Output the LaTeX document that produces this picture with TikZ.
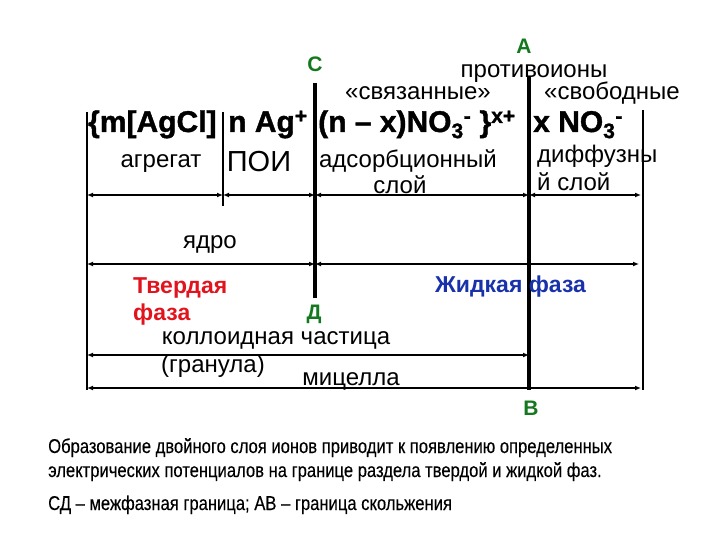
\documentclass[tikz,border=0pt]{standalone}
\usepackage{fontspec}
\setmainfont{Liberation Sans}
\newfontfamily\capfont[FakeStretch=0.83, FakeBold=0.2]{Liberation Sans}
\newfontfamily\heavyfont[BoldFeatures={FakeBold=1.3}]{Liberation Sans}
\usetikzlibrary{arrows.meta, positioning}
\definecolor{markgreen}{RGB}{20,120,30}
\definecolor{phasered}{RGB}{225,20,30}
\definecolor{phaseblue}{RGB}{25,50,170}
\tikzset{
	thinline/.style={line width=1.3pt},
	boundary/.style={line width=4.5pt},
	dim/.style={line width=1.3pt, {Latex[length=6pt,width=5pt]}-{Latex[length=6pt,width=5pt]}},
	lbl/.style={inner sep=0pt, anchor=base, font=\fontsize{24}{26}\selectfont},
	formula/.style={inner sep=0pt, anchor=base west, font=\fontsize{30}{32}\selectfont\heavyfont\bfseries},
	point/.style={inner sep=0pt, text=markgreen, font=\fontsize{21}{23}\selectfont\bfseries},
	phase/.style={inner sep=0pt, anchor=base west, font=\fontsize{23}{25}\selectfont\bfseries},
	caption/.style={inner sep=0pt, anchor=base west, font=\fontsize{20}{22}\selectfont\capfont}
}
\begin{document}
\begin{tikzpicture}[x=1pt, y=-1pt]
		\useasboundingbox (0,0) rectangle (720,540);
		% vertical lines
		\coordinate (L0) at (87,112);
		\coordinate (L1) at (223,112);
		\coordinate (C) at (315,83);
		\coordinate (A) at (529,76);
		\coordinate (R) at (643,110);
		\draw[thinline] (L0) -- (87,390);
		\draw[thinline] (L1) -- (223,206);
		\draw[boundary] (C) -- (315,298);
		\draw[boundary] (A) -- (529,390);
		\draw[thinline] (R) -- (643,390);
		% dimension arrows
		\draw[dim] (87,195) -- (223,195);
		\draw[dim] (223,195) -- (315,195);
		\draw[dim] (315,195) -- (529,195);
		\draw[dim] (529,195) -- (641,195);
		\draw[dim] (87,264) -- (315,264);
		\draw[dim] (315,264) -- (639,264);
		\draw[dim] (87,355) -- (529,355);
		\draw[dim] (87,388) -- (641,388);
		% formula
		\node[formula] (f1) at (88,132) {\{m[AgCl]};
		\node[formula] (f2) at (228,132) {n Ag\textsuperscript{+}};
		\node[formula] (f3) at (318,132) {(n – x)NO\textsubscript{3}\textsuperscript{-} \}\textsuperscript{x+}};
		\node[formula] (f4) at (533,132) {x NO\textsubscript{3}\textsuperscript{-}};
		% points
		\node[point] (pC) at (315,64) {С};
		\node[point] (pA) at (524,46) {А};
		\node[point] (pD) at (314,314) {Д};
		\node[point] (pB) at (531,408) {В};
		% labels
		\node[lbl] (counter) at (534,78) {противоионы};
		\node[lbl] (bound) at (418,100) {«связанные»};
		\node[lbl] (free) at (612,100) {«свободные};
		\node[lbl] (agg) at (161,168) {агрегат};
		\node[lbl, font=\fontsize{29}{31}\selectfont] (poi) at (259,172) {ПОИ};
		\node[lbl] (ads) at (408,168) {адсорбционный};
		\node[lbl] (ads2) at (400,194) {слой};
		\node[lbl, anchor=base west] (diff) at (537,163) {диффузны};
		\node[lbl, anchor=base west] (diff2) at (537,191) {й слой};
		\node[lbl] (core) at (210,248) {ядро};
		\node[phase, text=phasered] (solid) at (133,293) {Твердая};
		\node[phase, text=phasered] (solid2) at (133,320) {фаза};
		\node[phase, text=phaseblue] (liquid) at (435,292) {Жидкая фаза};
		\node[lbl] (part) at (276,344) {коллоидная частица};
		\node[lbl] (gran) at (213,372) {(гранула)};
		\node[lbl] (mic) at (351,385) {мицелла};
		% caption
		\node[caption] (cap1) at (48,453) {Образование двойного слоя ионов приводит к появлению определенных};
		\node[caption] (cap2) at (48,477) {электрических потенциалов на границе раздела твердой и жидкой фаз.};
		\node[caption] (cap3) at (48,510) {СД – межфазная граница; АВ – граница скольжения};
	\end{tikzpicture}
\end{document}
